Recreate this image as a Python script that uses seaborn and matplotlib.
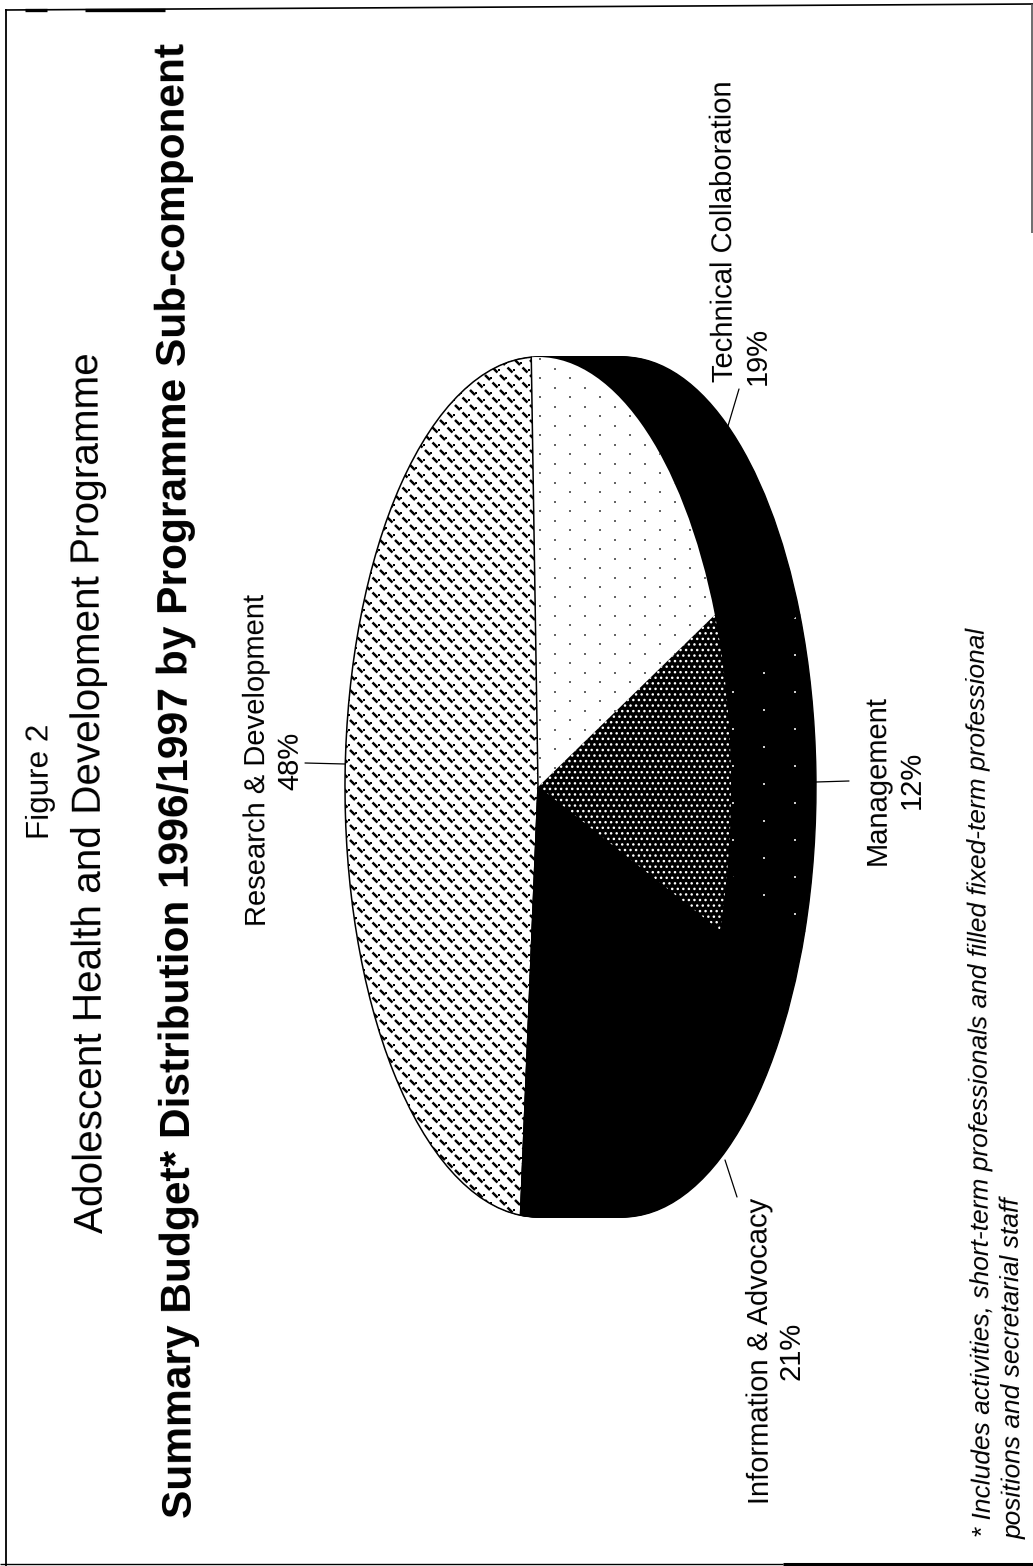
import matplotlib
matplotlib.use('Agg')
import matplotlib.pyplot as plt
import numpy as np
import seaborn as sns
from matplotlib.path import Path
from matplotlib.transforms import Affine2D

sns.set_theme(style="white")
plt.rcParams['font.family'] = ['Liberation Sans', 'DejaVu Sans']

# counterclockwise from the right end of the (rotated) page
categories = ['Research & Development', 'Information & Advocacy', 'Management', 'Technical Collaboration']
shares = [48, 21, 12, 19]
start_angle = 2

title_top = 'Figure 2'
title_mid = 'Adolescent Health and Development Programme'
title_main = 'Summary Budget* Distribution 1996/1997 by Programme Sub-component'
footnote = ['* Includes activities, short-term professionals and filled fixed-term professional',
            'positions and secretarial staff']

fig = plt.figure(figsize=(10.33, 15.66), dpi=100)
ax = fig.add_axes([0, 0, 1, 1])

# the page is turned 90 degrees, so the flattened pie is tall on the image
cx, cy, rx, ry, depth = 538, 787, 193, 430, 85

dash = Path([(-1, 1), (1, -1)])


def pie_layer(shift=0):
    wedges, _ = ax.pie(shares, startangle=start_angle, frame=False, normalize=True)
    tf = Affine2D.from_values(0, -ry, -rx, 0, cx + shift, cy) + ax.transData
    for w in wedges:
        w.set_transform(tf)
    return wedges


def texture(wedge, dx, dy, offset=0, **kw):
    # halftone screen of the copy, clipped to one slice
    cols = np.arange(330, 840, dx)
    rows = np.arange(340, 1240, dy)
    gx, gy = np.meshgrid(cols, rows)
    gy = gy + (np.arange(len(cols)) % 2) * dy / 2
    pts = ax.scatter(gx.ravel() + offset, gy.ravel(), zorder=wedge.get_zorder(), **kw)
    pts.set_clip_path(wedge)


# side wall, stacked from the back to the top face
for shift in range(depth, 0, -2):
    for w in pie_layer(shift):
        w.set(facecolor='black', edgecolor='black', linewidth=1)
wall = pie_layer(depth - 2)
wall[2].set(facecolor='black', edgecolor='black', linewidth=0)
texture(wall[2], 31, 37, s=0.8, c='#cccccc', linewidths=0, marker='s')
for w in [wall[0], wall[1], wall[3]]:
    w.set_visible(False)

plt.rcParams['hatch.linewidth'] = 1.0
research, info, management, technical = pie_layer()
research.set(facecolor='white', edgecolor='white', linewidth=0, zorder=3)
info.set(facecolor='black', edgecolor='black', linewidth=0.8, zorder=3)
management.set(facecolor='black', edgecolor='white', hatch='...', linewidth=0, zorder=3)
technical.set(facecolor='white', edgecolor='white', linewidth=0, zorder=3)

texture(research, 7.5, 15, s=13, marker=dash, facecolors='none', edgecolors='black', linewidths=1.8)
texture(research, 7.5, 15, offset=7.5 / 2, s=3, c='black', linewidths=0, marker='s')
texture(technical, 15, 19, s=0.9, c='#666666', linewidths=0, marker='s')

# crisp outline on top
for w, col in zip(pie_layer(), ['black', 'black', 'none', 'none']):
    w.set(facecolor='none', edgecolor=col, linewidth=1.1, zorder=5)

ax.set_xlim(0, 1033)
ax.set_ylim(1566, 0)
ax.set_aspect('auto')
ax.axis('off')

txt = dict(rotation=90.3, ha='center', va='center', color='black')
ax.text(41, 781, title_top, fontsize=22.6, **txt)
ax.text(90, 792.5, title_mid, fontsize=29.2, **txt)
ax.text(177, 781, title_main, fontsize=30.6, fontweight='bold', **txt)

label_size = 21
ax.text(257.5, 760, categories[0], fontsize=label_size, **txt)
ax.text(290.5, 761, '48%', fontsize=label_size, **txt)
ax.text(877.5, 780, categories[2], fontsize=label_size, **txt)
ax.text(911.5, 780, '12%', fontsize=label_size, **txt)
ax.text(760.5, 1351, categories[1], fontsize=label_size, **txt)
ax.text(791.5, 1351, '21%', fontsize=label_size, **txt)
ax.text(724.5, 231, categories[3], fontsize=label_size, **txt)
ax.text(757.5, 356, '19%', fontsize=label_size, **txt)

note = dict(fontsize=19, style='italic', rotation=90.4, ha='center', va='center', color='black')
ax.text(981, 1082, footnote[0], **note)
ax.text(1013, 1368, footnote[1], **note)

# leader lines
for x0, y0, x1, y1 in [(305, 763, 345, 764), (816, 782, 849, 781), (739, 389, 728, 426), (725, 1160, 737, 1197)]:
    ax.plot([x0, x1], [y0, y1], color='black', lw=0.9, zorder=6)

# scanned page border, uneven like the copy
ax.plot([6, 6], [9, 1566], color='black', lw=1.3, solid_capstyle='butt')
ax.plot([5, 1033], [10, 4], color='black', lw=1.2, solid_capstyle='butt')
ax.plot([25, 47], [10, 10], color='black', lw=2.4, solid_capstyle='butt')
ax.plot([85, 165], [9.5, 9.5], color='black', lw=2.4, solid_capstyle='butt')
ax.plot([1031.5, 1031.5], [4, 233], color='#555555', lw=1.2, solid_capstyle='butt')
ax.plot([0, 783], [1564, 1564], color='black', lw=1, solid_capstyle='butt')
ax.plot([783, 1033], [1564, 1564], color='black', lw=2.2, solid_capstyle='butt')

fig.savefig('out.png', dpi=100, facecolor='white')
